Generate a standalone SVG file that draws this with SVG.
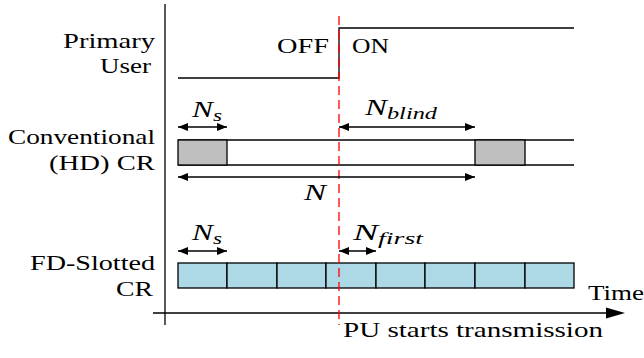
<svg xmlns="http://www.w3.org/2000/svg" width="644" height="358" viewBox="0 0 644 358" font-family="'Liberation Serif', 'Noto Serif', 'DejaVu Serif', serif">
<style>
text{font-size:22px;fill:#000}
.r{text-anchor:end}
.m{font-style:italic;font-size:23px}
.sub{font-size:17px;font-style:italic}
.ln{stroke:#000;stroke-width:1.3;fill:none}
.ar{stroke:#000;stroke-width:1.3;fill:none;marker-start:url(#ah);marker-end:url(#ah)}
.gray{fill:#bfbfbf;stroke:#000;stroke-width:1.3}
.blue{fill:#add8e6;stroke:#000;stroke-width:1.3}
</style>
<defs>
<marker id="ah" viewBox="0 0 10 8" refX="10" refY="4" markerWidth="10" markerHeight="8" markerUnits="userSpaceOnUse" orient="auto-start-reverse">
<path d="M0,0 L10,4 L0,8 z" fill="#000"/>
</marker>
</defs>
<rect width="644" height="358" fill="#fff"/>

<g id="axes">
<line class="ln" x1="165" y1="4" x2="165" y2="325"/>
<line class="ln" x1="153" y1="313" x2="614" y2="313"/>
<path d="M606,307.5 L625,313 L606,318.5 z" fill="#000"/>
<text x="588" y="300" textLength="56" lengthAdjust="spacingAndGlyphs">Time</text>
</g>

<g id="primary-user">
<text class="r" x="155" y="48" textLength="92" lengthAdjust="spacingAndGlyphs">Primary</text>
<text class="r" x="151" y="73" textLength="51" lengthAdjust="spacingAndGlyphs">User</text>
<polyline class="ln" points="178,78 339,78 339,28 574,28"/>
<text class="r" x="329" y="53" textLength="52" lengthAdjust="spacingAndGlyphs">OFF</text>
<text x="352" y="53" textLength="37" lengthAdjust="spacingAndGlyphs">ON</text>
</g>

<g id="conventional">
<text class="r" x="155" y="144" textLength="147" lengthAdjust="spacingAndGlyphs">Conventional</text>
<text class="r" x="155" y="170" textLength="106" lengthAdjust="spacingAndGlyphs">(HD) CR</text>
<line class="ln" x1="178" y1="140" x2="574" y2="140"/>
<line class="ln" x1="178" y1="165" x2="574" y2="165"/>
<rect class="gray" x="178" y="140" width="49" height="25"/>
<rect class="gray" x="475" y="140" width="50" height="25"/>
</g>

<g id="fd-slotted">
<text class="r" x="155" y="270" textLength="125" lengthAdjust="spacingAndGlyphs">FD-Slotted</text>
<text class="r" x="153" y="296" textLength="37" lengthAdjust="spacingAndGlyphs">CR</text>
<rect class="blue" x="178" y="263" width="49" height="25"/>
<rect class="blue" x="227" y="263" width="50" height="25"/>
<rect class="blue" x="277" y="263" width="49" height="25"/>
<rect class="blue" x="326" y="263" width="50" height="25"/>
<rect class="blue" x="376" y="263" width="49" height="25"/>
<rect class="blue" x="425" y="263" width="50" height="25"/>
<rect class="blue" x="475" y="263" width="50" height="25"/>
<rect class="blue" x="525" y="263" width="49" height="25"/>
</g>

<g id="pu-start">
<line x1="339" y1="16" x2="339" y2="325" stroke="#ff0000" stroke-width="1.3" stroke-dasharray="9 5"/>
<text x="343" y="337" textLength="260" lengthAdjust="spacingAndGlyphs">PU starts transmission</text>
</g>

<g id="connectors">
<line class="ar" x1="178" y1="127" x2="227" y2="127"/>
<line class="ar" x1="339" y1="127" x2="475" y2="127"/>
<line class="ar" x1="178" y1="177" x2="475" y2="177"/>
<line class="ar" x1="178" y1="251" x2="227" y2="251"/>
<line class="ar" x1="339" y1="251" x2="376" y2="251"/>
</g>

<g id="labels">
<text x="192" y="117" textLength="30" lengthAdjust="spacingAndGlyphs"><tspan class="m">N</tspan><tspan class="sub" dy="4">s</tspan></text>
<text x="365" y="115" textLength="72" lengthAdjust="spacingAndGlyphs"><tspan class="m">N</tspan><tspan class="sub" dy="4">blind</tspan></text>
<text x="304" y="200" class="m" textLength="22" lengthAdjust="spacingAndGlyphs">N</text>
<text x="192" y="240" textLength="30" lengthAdjust="spacingAndGlyphs"><tspan class="m">N</tspan><tspan class="sub" dy="4">s</tspan></text>
<text x="353" y="240" textLength="70" lengthAdjust="spacingAndGlyphs"><tspan class="m">N</tspan><tspan class="sub" dy="4">first</tspan></text>
</g>
</svg>
